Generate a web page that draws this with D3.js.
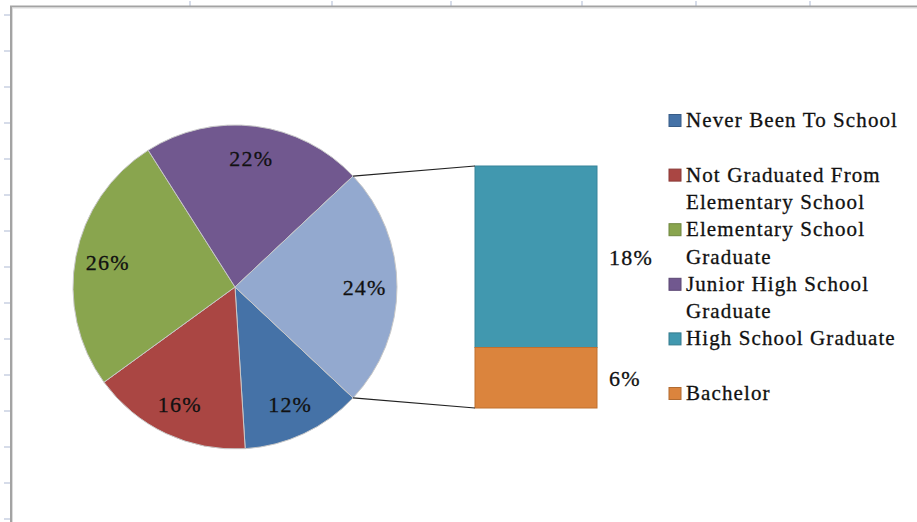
<!DOCTYPE html>
<html>
<head>
<meta charset="utf-8">
<script src="https://cdn.jsdelivr.net/npm/d3@7"></script>
<style>
  html, body { margin: 0; padding: 0; background: #fff; }
  svg { display: block; }
  text { font-family: "Liberation Serif", "Times New Roman", serif; }
</style>
</head>
<body>
<svg id="chart" width="917" height="522"></svg>
<script>
// ---- data ----
const pieCategories = ["Never Been To School", "Not Graduated From Elementary School", "Elementary School Graduate", "Junior High School Graduate", "Other"];
const pieValues = [12, 16, 26, 22, 24];
const barCategories = ["High School Graduate", "Bachelor"];
const barValues = [18, 6];
const legendCategories = ["Never Been To School", "Not Graduated From Elementary School", "Elementary School Graduate", "Junior High School Graduate", "High School Graduate", "Bachelor"];
const legendLines = [["Never Been To School"], ["Not Graduated From", "Elementary School"], ["Elementary School", "Graduate"], ["Junior High School", "Graduate"], ["High School Graduate"], ["Bachelor"]];
const pieColors = ["#4572A7", "#AA4643", "#89A54E", "#71588F", "#93A9CF"];
const barColors = ["#4198AF", "#DB843D"];
const barStrokes = ["#37849a", "#c0702f"];
const legendColors = ["#4572A7", "#AA4643", "#89A54E", "#71588F", "#4198AF", "#DB843D"];
// spreadsheet column / row marks behind the chart
const colMarks = [190, 332, 451, 582, 696, 810];
const rowMarks = d3.range(15, 522, 36);

const svg = d3.select("#chart");

// ---- spreadsheet background marks ----
svg.append("g").selectAll("line").data(colMarks).join("line")
  .attr("x1", d => d).attr("x2", d => d).attr("y1", 1).attr("y2", 6)
  .attr("stroke", "#c9d0e2").attr("stroke-width", 1.5);
svg.append("g").selectAll("line").data(rowMarks).join("line")
  .attr("y1", d => d).attr("y2", d => d).attr("x1", 4).attr("x2", 10)
  .attr("stroke", "#c9d0e2").attr("stroke-width", 1.5);

// chart area border (top + left)
svg.append("path").attr("d", "M11,522V6.5H917").attr("fill", "none").attr("stroke", "#a3a3a3").attr("stroke-width", 2);
svg.append("path").attr("d", "M12.5,522V8H917").attr("fill", "none").attr("stroke", "#dcdcdc").attr("stroke-width", 1);

// ---- pie ----
const cx = 235, cy = 287, R = 162;
const total = d3.sum(pieValues);
const otherShare = pieValues[pieValues.length - 1] / total;
// "Other" slice is centred at 3 o'clock (pointing to the bar); pie starts right after it
const start = Math.PI / 2 + otherShare * Math.PI;
const pie = d3.pie().sort(null).value(d => d).startAngle(start).endAngle(start + 2 * Math.PI);
const arcs = pie(pieValues);
const arc = d3.arc().innerRadius(0).outerRadius(R);
const labelArc = d3.arc().innerRadius(R * 0.8).outerRadius(R * 0.8);

const gPie = svg.append("g").attr("transform", `translate(${cx},${cy})`);
gPie.selectAll("path").data(arcs).join("path")
  .attr("d", arc)
  .attr("fill", (d, i) => pieColors[i])
  .attr("stroke", "#c8c8c8")
  .attr("stroke-width", 1);

gPie.selectAll("text").data(arcs).join("text")
  .attr("transform", d => `translate(${labelArc.centroid(d)})`)
  .attr("text-anchor", "middle")
  .attr("dy", "0.35em")
  .attr("font-size", 22)
  .attr("letter-spacing", 1.2)
  .attr("fill", "#111")
  .attr("stroke", "#111").attr("stroke-width", 0.3)
  .text(d => Math.round(d.value / total * 100) + "%");

// ---- bar (breakdown of "Other") ----
const barX = d3.scaleBand().domain(["Other"]).range([475, 597]).padding(0);
const barY = d3.scaleLinear().domain([0, d3.sum(barValues)]).range([408, 166]);
const stack = [];
let acc = d3.sum(barValues);
barValues.forEach((v, i) => { stack.push({ name: barCategories[i], v, y0: acc - v, y1: acc }); acc -= v; });

const gBar = svg.append("g");
gBar.selectAll("rect").data(stack).join("rect")
  .attr("x", barX("Other"))
  .attr("width", barX.bandwidth())
  .attr("y", d => barY(d.y1))
  .attr("height", d => barY(d.y0) - barY(d.y1))
  .attr("fill", (d, i) => barColors[i])
  .attr("stroke", (d, i) => barStrokes[i])
  .attr("stroke-width", 1);

gBar.selectAll("text").data(stack).join("text")
  .attr("x", barX("Other") + barX.bandwidth() + 12)
  .attr("y", d => (barY(d.y0) + barY(d.y1)) / 2 + 1)
  .attr("dy", "0.35em")
  .attr("font-size", 22)
  .attr("letter-spacing", 1.2)
  .attr("fill", "#111")
  .attr("stroke", "#111").attr("stroke-width", 0.3)
  .text(d => Math.round(d.v / total * 100) + "%");

// ---- connector lines ----
const otherArc = arcs[arcs.length - 1];
const edgePt = a => [cx + R * Math.sin(a), cy - R * Math.cos(a)];
const pTop = edgePt(otherArc.startAngle);
const pBot = edgePt(otherArc.endAngle);
svg.append("g").selectAll("line").data([
  [pTop, [barX("Other"), barY(d3.sum(barValues))]],
  [pBot, [barX("Other"), barY(0)]]
]).join("line")
  .attr("x1", d => d[0][0]).attr("y1", d => d[0][1])
  .attr("x2", d => d[1][0]).attr("y2", d => d[1][1])
  .attr("stroke", "#222").attr("stroke-width", 1.2);

// ---- legend ----
const legendTop = 127, legendStep = 54.6, lineStep = 27.5;
const gLeg = svg.append("g");
const items = gLeg.selectAll("g").data(legendCategories).join("g")
  .attr("transform", (d, i) => `translate(0,${legendTop + i * legendStep})`);
items.append("rect")
  .attr("x", 669).attr("y", -12.5).attr("width", 12).attr("height", 12)
  .attr("fill", (d, i) => legendColors[i])
  .attr("stroke", (d, i) => d3.color(legendColors[i]).darker(0.6))
  .attr("stroke-width", 1);
items.each(function (d, i) {
  d3.select(this).selectAll("text").data(legendLines[i]).join("text")
    .attr("x", 686)
    .attr("y", (t, j) => j * lineStep)
    .attr("font-size", 21)
    .attr("letter-spacing", 1.1)
    .attr("fill", "#111")
    .attr("stroke", "#111").attr("stroke-width", 0.3)
    .text(t => t);
});
</script>
</body>
</html>
